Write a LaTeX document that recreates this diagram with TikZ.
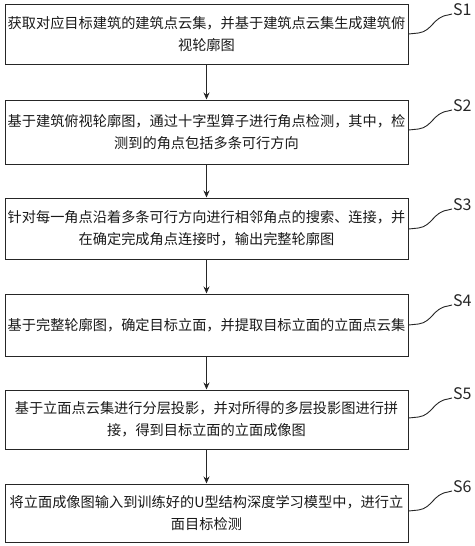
\documentclass[tikz,border=0pt]{standalone}
\usepackage{fontspec}
\setmainfont{Noto Sans CJK SC}
\usetikzlibrary{arrows.meta}
\begin{document}
\begin{tikzpicture}[x=1pt,y=-1pt,
  stepbox/.style={draw=black!85,line width=1pt,minimum width=403pt,inner sep=0pt,align=center,font=\fontsize{14.2}{22}\selectfont,text=black!90},
  flow/.style={draw=black!85,line width=1pt,-{Stealth[length=7pt,width=6pt]}},
  leader/.style={draw=black!85,line width=0.9pt},
  lbl/.style={font=\fontsize{16}{18}\selectfont,text=black!85,inner sep=0pt}]
\useasboundingbox (0,0) rectangle (474,546);
\node[stepbox,minimum height=60pt] (b1) at (206.5,34) {获取对应目标建筑的建筑点云集，并基于建筑点云集生成建筑俯\\视轮廓图};
\node[stepbox,minimum height=64pt] (b2) at (206.5,132) {基于建筑俯视轮廓图，通过十字型算子进行角点检测，其中，检\\测到的角点包括多条可行方向};
\node[stepbox,minimum height=61pt] (b3) at (206.5,228.5) {针对每一角点沿着多条可行方向进行相邻角点的搜索、连接，并\\在确定完成角点连接时，输出完整轮廓图};
\node[stepbox,minimum height=62pt] (b4) at (206.5,325) {基于完整轮廓图，确定目标立面，并提取目标立面的立面点云集};
\node[stepbox,minimum height=59pt] (b5) at (206.5,419.5) {基于立面点云集进行分层投影，并对所得的多层投影图进行拼\\接，得到目标立面的立面成像图};
\node[stepbox,minimum height=58pt] (b6) at (206.5,513) {将立面成像图输入到训练好的U型结构深度学习模型中，进行立\\面目标检测};
\draw[flow] (b1) -- (b2);
\draw[flow] (b2) -- (b3);
\draw[flow] (b3) -- (b4);
\draw[flow] (b4) -- (b5);
\draw[flow] (b5) -- (b6);
\foreach \i/\c in {1/34,2/130,3/229,4/325,5/418,6/511}{
  \coordinate (e\i) at (448,\c-19);
  \node[lbl,anchor=west] (s\i) at (453,\c-24) {S\i};
  \draw[leader] (b\i.east |- 0,\c) -- ++(10,-1) .. controls +(14,-2) and (433,\c-17) .. (e\i) -- ++(4,-1);
}
\end{tikzpicture}
\end{document}
